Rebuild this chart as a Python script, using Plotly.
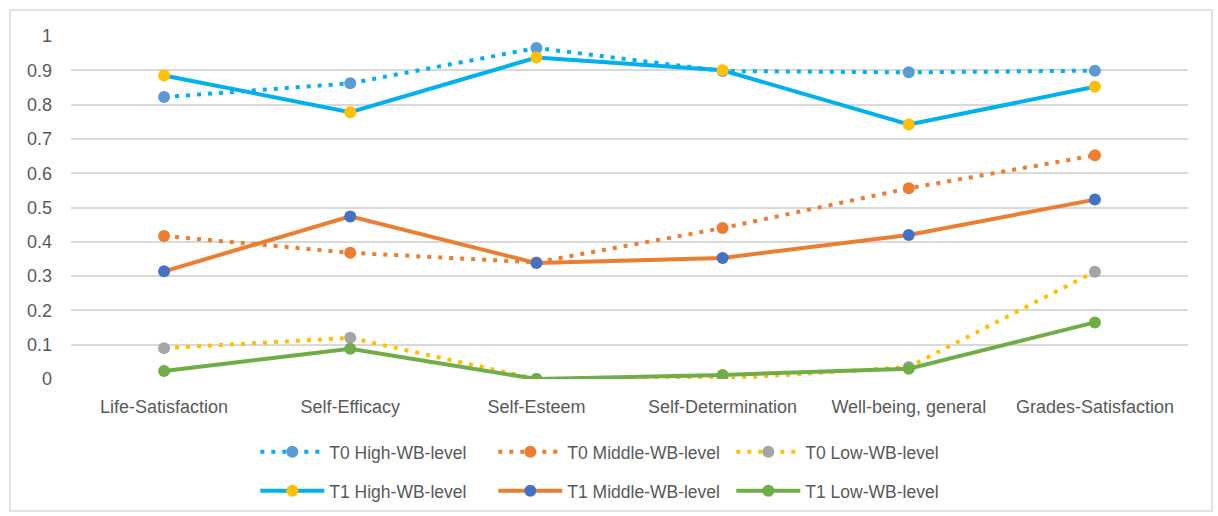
import plotly.graph_objects as go

categories = ["Life-Satisfaction", "Self-Efficacy", "Self-Esteem",
              "Self-Determination", "Well-being, general", "Grades-Satisfaction"]

t0_high = [0.822, 0.862, 0.965, 0.898, 0.894, 0.899]
t0_middle = [0.417, 0.368, 0.340, 0.440, 0.556, 0.652]
t0_low = [0.090, 0.120, 0.000, 0.000, 0.035, 0.313]
t1_high = [0.885, 0.778, 0.937, 0.900, 0.742, 0.852]
t1_middle = [0.314, 0.474, 0.338, 0.353, 0.420, 0.523]
t1_low = [0.023, 0.088, 0.000, 0.012, 0.030, 0.165]

y_ticks = [0, 0.1, 0.2, 0.3, 0.4, 0.5, 0.6, 0.7, 0.8, 0.9, 1]
y_tick_labels = ["0", "0.1", "0.2", "0.3", "0.4", "0.5", "0.6", "0.7", "0.8", "0.9", "1"]

FONT = "Liberation Sans, Arial, sans-serif"
TEXT = "#595959"
DOTS = "4px,7px"

series = [
    ("T0 High-WB-level", t0_high, "#00B0F0", "#5B9BD5", DOTS, "legend"),
    ("T0 Middle-WB-level", t0_middle, "#ED7D31", "#ED7D31", DOTS, "legend"),
    ("T0 Low-WB-level", t0_low, "#FFC000", "#A5A5A5", DOTS, "legend"),
    ("T1 High-WB-level", t1_high, "#00B0F0", "#FFC000", "solid", "legend2"),
    ("T1 Middle-WB-level", t1_middle, "#ED7D31", "#4472C4", "solid", "legend2"),
    ("T1 Low-WB-level", t1_low, "#70AD47", "#70AD47", "solid", "legend2"),
]

x_idx = list(range(len(categories)))

fig = go.Figure()
for name, vals, line_col, marker_col, dash, leg in series:
    fig.add_trace(go.Scatter(
        x=x_idx, y=vals, name=name, mode="lines+markers",
        line=dict(color=line_col, width=4, dash=dash),
        marker=dict(color=marker_col, size=12),
        legend=leg,
    ))

legend_common = dict(
    orientation="h", xanchor="left", yanchor="middle",
    font=dict(family=FONT, size=17.5, color=TEXT),
    entrywidth=159, entrywidthmode="pixels", itemwidth=64,
    bgcolor="rgba(0,0,0,0)", itemclick=False, itemdoubleclick=False,
)

fig.update_layout(
    width=1218, height=516,
    margin=dict(l=71, r=30, t=36, b=137, autoexpand=False),
    paper_bgcolor="white", plot_bgcolor="white",
    font=dict(family=FONT, size=18, color=TEXT),
    showlegend=True,
    legend=dict(x=0.165, y=-0.2125, **legend_common),
    legend2=dict(x=0.165, y=-0.326, **legend_common),
    xaxis=dict(
        range=[-0.5, len(categories) - 0.5],
        tickvals=x_idx, ticktext=categories,
        showgrid=False, zeroline=False, showline=False, ticks="",
        tickfont=dict(family=FONT, size=18, color=TEXT),
        ticklabelstandoff=15,
        fixedrange=True,
    ),
    yaxis=dict(
        range=[0, 1], tickvals=y_ticks, ticktext=y_tick_labels,
        showgrid=True, gridcolor="#D9D9D9", gridwidth=1.5,
        zeroline=False, showline=False, ticks="",
        tickfont=dict(family=FONT, size=18, color=TEXT),
        ticklabelstandoff=18,
        fixedrange=True,
    ),
    shapes=[dict(
        type="rect", xref="paper", yref="paper",
        x0=(10 - 71) / 1117, x1=(1212 - 71) / 1117,
        y0=(379 - 511) / 343, y1=(379 - 10) / 343,
        line=dict(color="#D9D9D9", width=1.5), fillcolor="rgba(0,0,0,0)",
        layer="below",
    )],
)

fig.write_html("out.html")
